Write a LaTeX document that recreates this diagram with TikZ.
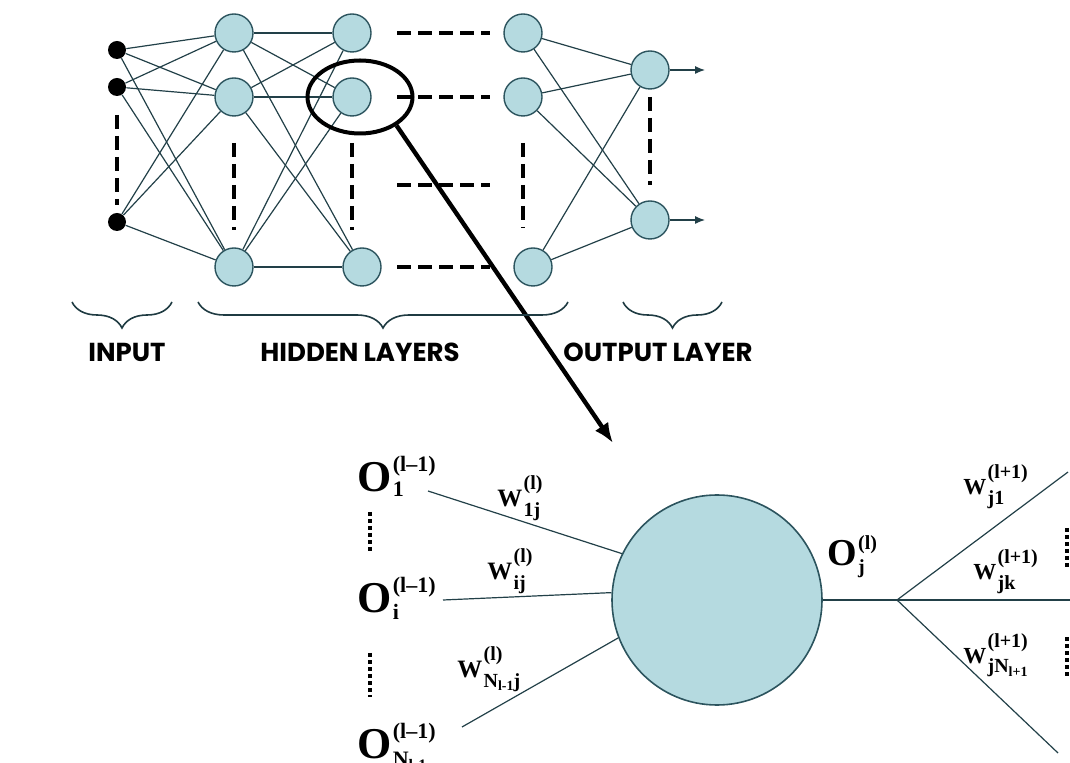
\documentclass[tikz,border=0pt]{standalone}
\usepackage{fontspec}
\setmainfont{Liberation Serif}
\newfontfamily\capfont{Poppins}
\usepackage{tikz}
\usetikzlibrary{arrows.meta, positioning, calc, shapes.geometric, decorations.pathreplacing}
\definecolor{cellfill}{RGB}{181,218,224}
\definecolor{cellline}{RGB}{44,84,94}
\definecolor{wirecol}{RGB}{34,64,72}
% letter with a superscript over a subscript
\newcommand{\symlab}[7]{{\fontsize{#1}{#1}\selectfont #2}\kern0.6pt{\fontsize{#3}{#3}\selectfont\ooalign{\raisebox{#4}{#6}\cr\raisebox{-#5}{#7}\cr}}}
\newcommand{\capstyle}{\capfont\bfseries\fontsize{13}{13}\selectfont\spaceskip=2.5pt\relax}

\begin{document}
\begin{tikzpicture}[x=0.5pt, y=-0.5pt,
  cell/.style={circle, draw=cellline, fill=cellfill, line width=0.7pt, minimum size=19pt, inner sep=0pt},
  inputdot/.style={circle, fill=black, minimum size=9pt, inner sep=0pt},
  wire/.style={draw=wirecol, line width=0.6pt},
  gap/.style={line width=1.8pt, dash pattern=on 7pt off 3.5pt},
  dots/.style={line width=2pt, dash pattern=on 2pt off 1.5pt},
  layerbrace/.style={draw=cellline!70!black, line width=0.8pt, decorate, decoration={brace, mirror, amplitude=13pt}},
  caption/.style={font=\capstyle, inner sep=0pt},
  sym/.style={font=\bfseries, inner sep=0pt, anchor=base west}]
  \useasboundingbox (0,0) rectangle (1070,763);

  % network layers
  \foreach \n/\y in {1/50, 2/87, 3/222} \node[inputdot] (in\n) at (117,\y) {};
  \foreach \n/\x/\y in {1/234/33, 2/234/97, 3/234/267} \node[cell] (ha\n) at (\x,\y) {};
  \foreach \n/\x/\y in {1/352/33, 2/352/97, 3/362/267} \node[cell] (hb\n) at (\x,\y) {};
  \foreach \n/\x/\y in {1/523/33, 2/523/97, 3/533/267} \node[cell] (hc\n) at (\x,\y) {};
  \foreach \n/\y in {1/70, 2/220} \node[cell] (out\n) at (650,\y) {};

  % weights
  \foreach \i in {1,2,3} \foreach \j in {1,2,3} \draw[wire] (in\i) -- (ha\j);
  \foreach \i in {1,2,3} \foreach \j in {1,2,3} \draw[wire] (ha\i) -- (hb\j);
  \foreach \i in {1,2,3} \foreach \j in {1,2} \draw[wire] (hc\i) -- (out\j);
  \foreach \j in {1,2} {
    \coordinate (res\j) at ($(out\j)+(55,0)$);
    \draw[wire, -{Latex[length=5pt,width=4pt]}] (out\j) -- (res\j);
  }

  % skipped units and layers
  \draw[gap] (117,115) -- (117,205);
  \draw[gap] (234,143) -- (234,230);
  \draw[gap] (352,143) -- (352,230);
  \draw[gap] (523,143) -- (523,228);
  \draw[gap] (650,97) -- (650,185);
  \foreach \y in {33,97,185,267} \draw[gap] (397,\y) -- (490,\y);

  % zoom on one unit
  \node[draw, ellipse, line width=2pt, minimum width=52.5pt, minimum height=36.5pt, inner sep=0pt] (lens) at (360,97) {};
  \coordinate (tip) at (613,443);
  \draw[line width=2.2pt, -{Latex[length=10pt,width=8pt]}] (lens.-38) -- (tip);

  % layer braces
  \draw[layerbrace] (72,302) -- (172,302);
  \draw[layerbrace] (198,302) -- (568,302);
  \draw[layerbrace] (623,302) -- (722,302);
  \node[caption] (cin) at (127,352) {INPUT};
  \node[caption] (chid) at (360,352) {HIDDEN LAYERS};
  \node[caption] (cout) at (658,352) {OUTPUT LAYER};

  % single neuron
  \node[cell, minimum size=105pt, line width=0.8pt] (nj) at (717,600) {};
  \coordinate (o1) at (428,491);
  \coordinate (oi) at (443,600);
  \coordinate (oN) at (462,727);
  \draw[wire] (o1) -- (nj.154);
  \draw[wire] (oi) -- (nj.176);
  \draw[wire] (oN) -- (nj.201);
  \coordinate (fork) at (897,600);
  \coordinate (k1) at (1068,472);
  \coordinate (kk) at (1070,600);
  \coordinate (kN) at (1058,753);
  \draw[wire] (nj.east) -- (fork) -- (kk);
  \draw[wire] (k1) -- (fork) -- (kN);
  \draw[dots] (370,512) -- (370,553);
  \draw[dots] (370,653) -- (370,697);
  \draw[dots] (1067,528) -- (1067,570);
  \draw[dots] (1067,637) -- (1067,677);

  % labels
  \node[sym] (lo1) at (357,492) {\symlab{22}{O}{11}{10pt}{2.5pt}{(l--1)}{1}};
  \node[sym] (loi) at (357,613) {\symlab{22}{O}{11}{10pt}{3.5pt}{(l--1)}{i}};
  \node[sym] (loN) at (357,758) {\symlab{22}{O}{11}{10pt}{4pt}{(l--1)}{N\raisebox{-2pt}{\fontsize{8}{8}\selectfont l-1}}};
  \node[sym] (loj) at (827,566) {\symlab{19}{O}{10}{8pt}{4pt}{(l)}{j}};
  \node[sym] (lw1) at (497,507) {\symlab{12.5}{W}{10}{8.5pt}{5pt}{(l)}{1j}};
  \node[sym] (lwi) at (487,580) {\symlab{12.5}{W}{10}{8.5pt}{5pt}{(l)}{ij}};
  \node[sym] (lwN) at (457,677) {\symlab{12.5}{W}{10}{8.5pt}{5pt}{(l)}{N\raisebox{-1.5pt}{\fontsize{7}{7}\selectfont l-1}j}};
  \node[sym] (lk1) at (963,495) {\symlab{11.5}{W}{10}{8pt}{5pt}{(l+1)}{j1}};
  \node[sym] (lkk) at (973,580) {\symlab{11.5}{W}{10}{8pt}{5pt}{(l+1)}{jk}};
  \node[sym] (lkN) at (963,663) {\symlab{11.5}{W}{10}{8pt}{5pt}{(l+1)}{jN\raisebox{-1.5pt}{\fontsize{7}{7}\selectfont l+1}}};
\end{tikzpicture}
\end{document}
